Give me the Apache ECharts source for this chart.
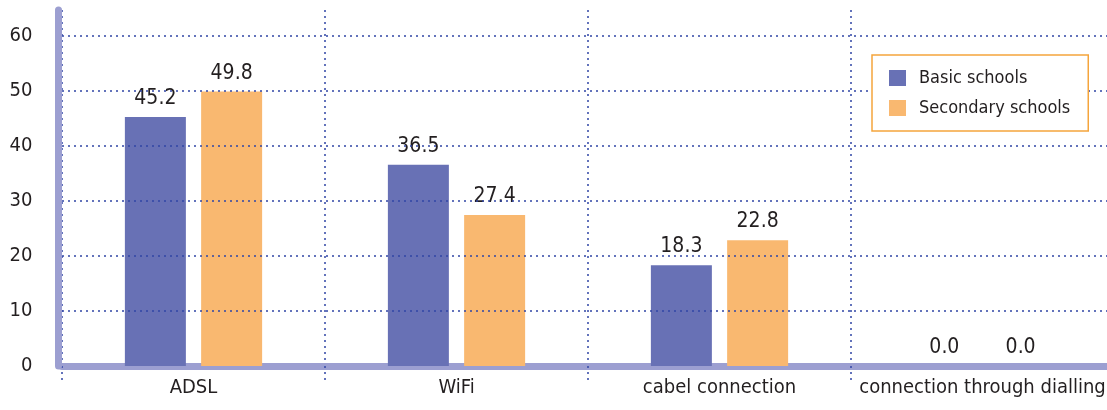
<!DOCTYPE html>
<html>
<head>
<meta charset="utf-8">
<script src="https://cdn.jsdelivr.net/npm/echarts@6/dist/echarts.min.js"></script>
<style>
  html, body { margin: 0; padding: 0; background: #fff; }
  #main { width: 1107px; height: 410px; }
</style>
</head>
<body>
<div id="main"></div>
<script>
// data
const categories = ["ADSL", "WiFi", "cabel connection", "connection through dialling"];
const basicSchools = [45.2, 36.5, 18.3, 0.0];
const secondarySchools = [49.8, 27.4, 22.8, 0.0];
const yTicks = [0, 10, 20, 30, 40, 50, 60];

const font = "'Liberation Sans Narrow', 'DejaVu Sans Condensed', 'Arial Narrow', sans-serif";
const textColor = "#231f20";
const axisColor = "#9c9fd1";
const gridColor = "#3046a5";

let chart = echarts.init(document.getElementById("main"));

let barLabel = {
  show: true,
  position: "top",
  distance: 8,
  color: textColor,
  fontFamily: font,
  fontSize: 21,
  formatter: function (p) {
    return p.value.toFixed(1);
  },
};

var option = {
  animation: false,
  backgroundColor: "#fff",
  grid: {
    left: 62,
    width: 1052,
    top: 10,
    bottom: 44,
    outerBoundsMode: "none",
  },
  legend: {
    orient: "vertical",
    left: 872,
    top: 55,
    padding: [14, 18, 14, 17],
    itemWidth: 17,
    itemHeight: 16,
    itemGap: 12,
    icon: "rect",
    borderColor: "#f5a53c",
    borderWidth: 1.5,
    borderRadius: 0,
    backgroundColor: "#fff",
    textStyle: {
      color: textColor,
      fontFamily: font,
      fontSize: 18,
      padding: [0, 0, 0, 8],
    },
    data: ["Basic schools", "Secondary schools"],
  },
  xAxis: {
    type: "category",
    data: categories,
    offset: 3.5,
    axisLine: {
      lineStyle: { color: axisColor, width: 7 },
    },
    axisTick: {
      show: true,
      length: 17,
      lineStyle: { color: gridColor, width: 1.5, type: [2, 4] },
    },
    splitLine: {
      show: true,
      lineStyle: { color: gridColor, width: 1.5, type: [2, 4] },
    },
    axisLabel: {
      interval: 0,
      color: textColor,
      fontFamily: font,
      fontSize: 20,
      margin: 8,
    },
  },
  yAxis: {
    type: "value",
    z: 3,
    min: yTicks[0],
    max: 64.6,
    interval: 10,
    offset: 3.5,
    axisLine: {
      show: true,
      lineStyle: { color: axisColor, width: 7 },
    },
    axisTick: { show: false },
    splitLine: {
      show: true,
      showMinLine: false,
      showMaxLine: false,
      lineStyle: { color: gridColor, width: 1.5, type: [2, 4] },
    },
    axisLabel: {
      color: textColor,
      fontFamily: font,
      fontSize: 20,
      margin: 26,
      showMaxLabel: false,
      formatter: function (v) {
        return yTicks.indexOf(v) >= 0 ? String(v) : "";
      },
    },
  },
  series: [
    {
      name: "Basic schools",
      type: "bar",
      data: basicSchools,
      barWidth: 61,
      barGap: "25%",
      itemStyle: { color: "#6871b5" },
      label: barLabel,
    },
    {
      name: "Secondary schools",
      type: "bar",
      data: secondarySchools,
      barWidth: 61,
      itemStyle: { color: "#f9b870" },
      label: barLabel,
    },
  ],
};

chart.setOption(option);
</script>
</body>
</html>
